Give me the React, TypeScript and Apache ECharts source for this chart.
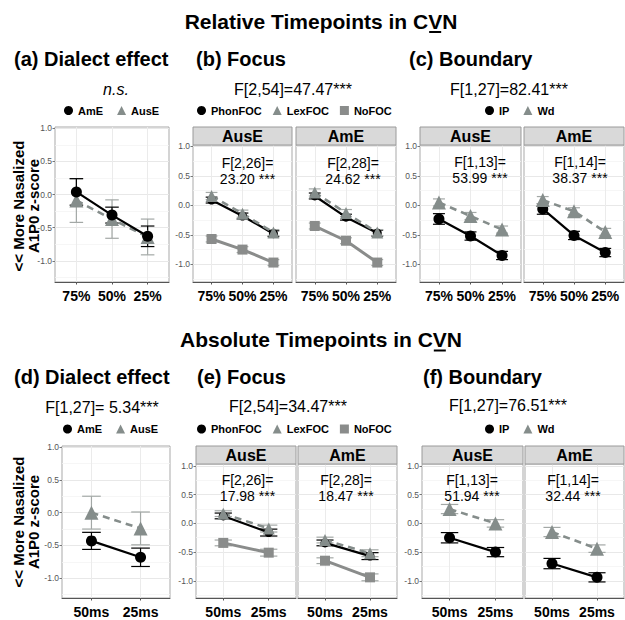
import React, { useEffect, useRef } from "react";
import * as echarts from "echarts";

// ---------- categories / ticks ----------
const relCats = ["75%", "50%", "25%"];
const absCats = ["50ms", "25ms"];
const yMajor = [-1, -0.5, 0, 0.5, 1];
const yMinor = [-1.25, -0.75, -0.25, 0.25, 0.75];

// ---------- (a) Dialect effect, relative ----------
const aAmE = [0.04, -0.31, -0.63];
const aAmEErr = [0.2, 0.12, 0.155];
const aAusE = [-0.09, -0.37, -0.64];
const aAusEErr = [0.33, 0.29, 0.27];

// ---------- (b) Focus, relative ----------
const bAusEPhon = [0.09, -0.18, -0.48];
const bAusELex = [0.16, -0.14, -0.46];
const bAusENo = [-0.57, -0.75, -0.97];
const bAmEPhon = [0.16, -0.2, -0.47];
const bAmELex = [0.22, -0.13, -0.46];
const bAmENo = [-0.35, -0.6, -0.97];
const bPhonErr = [0.05, 0.05, 0.05];
const bLexErr = [0.06, 0.06, 0.05];
const bNoErr = [0.05, 0.05, 0.05];

// ---------- (c) Boundary, relative ----------
const cAusEIP = [-0.23, -0.52, -0.85];
const cAusEWd = [0.05, -0.18, -0.41];
const cAmEIP = [-0.06, -0.51, -0.8];
const cAmEWd = [0.09, -0.1, -0.45];
const cIPErr = [0.09, 0.07, 0.07];
const cWdErr = [0.06, 0.06, 0.06];

// ---------- (d) Dialect effect, absolute ----------
const dAmE = [-0.43, -0.68];
const dAmEErr = [0.13, 0.14];
const dAusE = [0.0, -0.24];
const dAusEErr = [0.25, 0.25];

// ---------- (e) Focus, absolute ----------
const eAusEPhon = [0.13, -0.16];
const eAusELex = [0.17, -0.09];
const eAusENo = [-0.34, -0.51];
const eAmEPhon = [-0.34, -0.57];
const eAmELex = [-0.29, -0.52];
const eAmENo = [-0.65, -0.94];
const eErr = [0.05, 0.06];

// ---------- (f) Boundary, absolute ----------
const fAusEIP = [-0.25, -0.5];
const fAusEWd = [0.25, 0.0];
const fAmEIP = [-0.7, -0.94];
const fAmEWd = [-0.15, -0.44];
const fIPErr = [0.09, 0.08];
const fWdErr = [0.08, 0.065];

const FONT = "'Liberation Sans', Arial, Helvetica, sans-serif";

type Kind = "circle" | "triangle" | "square";
const KIND: Record<Kind, any> = {
  circle: { color: "#000000", symbol: "circle", lineType: "solid", lineWidth: 2.2, err: "#000000" },
  triangle: { color: "#858d8b", symbol: "triangle", lineType: [7, 5], lineWidth: 2.6, err: "#a3a8a6" },
  square: { color: "#8a8c8b", symbol: "rect", lineType: "solid", lineWidth: 3, err: "#a3a8a6" },
};

type S = { name: string; vals: number[]; err: number[]; kind: Kind; size: number };
type P = {
  left: number; top: number; width: number; height: number;
  min: number; max: number; cats: string[]; yLabels: boolean; strip?: string; series: S[];
};

const panels: P[] = [
  { left: 55, top: 127, width: 114, height: 155, min: -1.32, max: 1.02, cats: relCats, yLabels: true,
    series: [
      { name: "AusE", vals: aAusE, err: aAusEErr, kind: "triangle", size: 14 },
      { name: "AmE", vals: aAmE, err: aAmEErr, kind: "circle", size: 11 },
    ] },
  { left: 193, top: 145, width: 99, height: 137, min: -1.3, max: 1.025, cats: relCats, yLabels: true, strip: "AusE",
    series: [
      { name: "PhonFOC", vals: bAusEPhon, err: bPhonErr, kind: "circle", size: 9 },
      { name: "LexFOC", vals: bAusELex, err: bLexErr, kind: "triangle", size: 12 },
      { name: "NoFOC", vals: bAusENo, err: bNoErr, kind: "square", size: 10 },
    ] },
  { left: 296, top: 145, width: 100, height: 137, min: -1.3, max: 1.025, cats: relCats, yLabels: false, strip: "AmE",
    series: [
      { name: "PhonFOC", vals: bAmEPhon, err: bPhonErr, kind: "circle", size: 9 },
      { name: "LexFOC", vals: bAmELex, err: bLexErr, kind: "triangle", size: 12 },
      { name: "NoFOC", vals: bAmENo, err: bNoErr, kind: "square", size: 10 },
    ] },
  { left: 420, top: 145, width: 101, height: 137, min: -1.3, max: 1.025, cats: relCats, yLabels: true, strip: "AusE",
    series: [
      { name: "IP", vals: cAusEIP, err: cIPErr, kind: "circle", size: 11 },
      { name: "Wd", vals: cAusEWd, err: cWdErr, kind: "triangle", size: 14 },
    ] },
  { left: 524, top: 145, width: 100, height: 137, min: -1.3, max: 1.025, cats: relCats, yLabels: false, strip: "AmE",
    series: [
      { name: "IP", vals: cAmEIP, err: cIPErr, kind: "circle", size: 11 },
      { name: "Wd", vals: cAmEWd, err: cWdErr, kind: "triangle", size: 14 },
    ] },
  { left: 62, top: 446, width: 108, height: 152, min: -1.3, max: 1.015, cats: absCats, yLabels: true,
    series: [
      { name: "AusE", vals: dAusE, err: dAusEErr, kind: "triangle", size: 14 },
      { name: "AmE", vals: dAmE, err: dAmEErr, kind: "circle", size: 11 },
    ] },
  { left: 196, top: 464, width: 100, height: 134, min: -1.3, max: 1.035, cats: absCats, yLabels: true, strip: "AusE",
    series: [
      { name: "PhonFOC", vals: eAusEPhon, err: eErr, kind: "circle", size: 9 },
      { name: "LexFOC", vals: eAusELex, err: eErr, kind: "triangle", size: 12 },
      { name: "NoFOC", vals: eAusENo, err: eErr, kind: "square", size: 10 },
    ] },
  { left: 298, top: 464, width: 99, height: 134, min: -1.3, max: 1.035, cats: absCats, yLabels: false, strip: "AmE",
    series: [
      { name: "PhonFOC", vals: eAmEPhon, err: eErr, kind: "circle", size: 9 },
      { name: "LexFOC", vals: eAmELex, err: eErr, kind: "triangle", size: 12 },
      { name: "NoFOC", vals: eAmENo, err: eErr, kind: "square", size: 10 },
    ] },
  { left: 422, top: 464, width: 101, height: 134, min: -1.3, max: 1.035, cats: absCats, yLabels: true, strip: "AusE",
    series: [
      { name: "IP", vals: fAusEIP, err: fIPErr, kind: "circle", size: 11 },
      { name: "Wd", vals: fAusEWd, err: fWdErr, kind: "triangle", size: 14 },
    ] },
  { left: 525, top: 464, width: 99, height: 134, min: -1.3, max: 1.035, cats: absCats, yLabels: false, strip: "AmE",
    series: [
      { name: "IP", vals: fAmEIP, err: fIPErr, kind: "circle", size: 11 },
      { name: "Wd", vals: fAmEWd, err: fWdErr, kind: "triangle", size: 14 },
    ] },
];

const STRIP_H = 18;

function measure(text: string, font: string) {
  const ctx = document.createElement("canvas").getContext("2d");
  if (!ctx) return text.length * 10;
  ctx.font = font;
  return ctx.measureText(text).width;
}

function txt(x: number, y: number, text: string, size: number, opts: any = {}) {
  const align = opts.align || "center";
  return {
    type: "text",
    x, y,
    rotation: opts.rotation || 0,
    z: 50,
    style: {
      text,
      fontSize: size,
      fontWeight: opts.weight || "normal",
      fontStyle: opts.italic ? "italic" : "normal",
      fontFamily: FONT,
      fill: opts.color || "#000",
      textAlign: align, align,
      textVerticalAlign: "middle", verticalAlign: "middle",
      lineHeight: opts.lineHeight || size,
    },
  };
}

function titleWithUnderline(cx: number, cy: number, text: string) {
  const size = 21;
  const font = `bold ${size}px ${FONT}`;
  const total = measure(text, font);
  const prefix = measure(text.slice(0, text.length - 2), font);
  const vW = measure("V", font);
  const x0 = cx - total / 2 + prefix;
  return [
    txt(cx, cy, text, size, { weight: "bold" }),
    { type: "line", z: 50, shape: { x1: x0 + 1, y1: cy + 11, x2: x0 + vW - 1, y2: cy + 11 }, style: { stroke: "#000", lineWidth: 2 } },
  ];
}

function errRender(color: string) {
  return (params: any, api: any) => {
    const x = api.value(0);
    const lo = api.value(1);
    const hi = api.value(2);
    const a = api.coord([x, lo]);
    const b = api.coord([x, hi]);
    const aL = api.coord([x - 0.19, lo]);
    const aR = api.coord([x + 0.19, lo]);
    const bL = api.coord([x - 0.19, hi]);
    const bR = api.coord([x + 0.19, hi]);
    const style = { stroke: color, lineWidth: 1.2, fill: null };
    return {
      type: "group",
      children: [
        { type: "line", shape: { x1: a[0], y1: a[1], x2: b[0], y2: b[1] }, style },
        { type: "line", shape: { x1: aL[0], y1: aL[1], x2: aR[0], y2: aR[1] }, style },
        { type: "line", shape: { x1: bL[0], y1: bL[1], x2: bR[0], y2: bR[1] }, style },
      ],
    };
  };
}

function buildOption() {
  const grid: any[] = [];
  const xAxis: any[] = [];
  const yAxis: any[] = [];
  const series: any[] = [];
  const graphic: any[] = [];

  panels.forEach((p, i) => {
    grid.push({
      left: p.left, top: p.top, width: p.width, height: p.height,
      show: true, borderColor: "#a9a9a9", borderWidth: 1, backgroundColor: "transparent",
    });
    const idx = p.cats.map((_, k) => k);
    xAxis.push({
      type: "value", gridIndex: i, min: -0.6, max: p.cats.length - 1 + 0.6,
      axisLine: { show: true, onZero: false, lineStyle: { color: "#555", width: 1 } },
      axisTick: { show: true, length: 2.5, customValues: idx, lineStyle: { color: "#555" } },
      axisLabel: {
        customValues: idx,
        formatter: (v: number) => p.cats[Math.round(v)] ?? "",
        fontSize: 14, fontWeight: "bold", color: "#000", margin: 7, fontFamily: FONT,
      },
      splitLine: { show: true, lineStyle: { color: "#ebebeb", width: 1 } },
    });
    yAxis.push({
      type: "value", gridIndex: i, min: p.min, max: p.max, position: "left",
      axisLine: { show: false, onZero: false },
      axisTick: { show: p.yLabels, length: 2.5, customValues: yMajor, lineStyle: { color: "#777" } },
      axisLabel: {
        show: p.yLabels, customValues: yMajor,
        formatter: (v: number) => v.toFixed(1),
        fontSize: 8.5, color: "#555", margin: 3, fontFamily: FONT,
      },
      splitLine: { show: true, lineStyle: { color: "#e8e8e8", width: 1 } },
    });
    yAxis.push({
      type: "value", gridIndex: i, min: p.min, max: p.max, position: "right",
      axisLine: { show: false, onZero: false },
      axisTick: { show: false, customValues: yMinor },
      axisLabel: { show: false },
      splitLine: { show: true, lineStyle: { color: "#f4f4f4", width: 0.8 } },
    });

    p.series.forEach((s) => {
      const k = KIND[s.kind];
      series.push({
        type: "custom", name: s.name + " err", xAxisIndex: i, yAxisIndex: 2 * i, z: 2,
        renderItem: errRender(k.err),
        encode: { x: 0, y: [1, 2] },
        data: s.vals.map((v, j) => [j, v - s.err[j], v + s.err[j]]),
        silent: true,
      });
    });
    p.series.forEach((s) => {
      const k = KIND[s.kind];
      series.push({
        type: "line", name: s.name, xAxisIndex: i, yAxisIndex: 2 * i, z: 3,
        data: s.vals.map((v, j) => [j, v]),
        symbol: k.symbol, symbolSize: s.size, showSymbol: true,
        itemStyle: { color: k.color, borderWidth: 0 },
        lineStyle: { color: k.color, width: k.lineWidth, type: k.lineType },
        silent: true,
      });
    });

    if (p.strip) {
      graphic.push({
        type: "rect", z: 40,
        shape: { x: p.left, y: p.top - STRIP_H, width: p.width, height: STRIP_H },
        style: { fill: "#d9d9d9", stroke: "#9a9a9a", lineWidth: 1 },
      });
      graphic.push(txt(p.left + p.width / 2, p.top - STRIP_H / 2 + 0.5, p.strip, 16, { weight: "bold" }));
    }
  });

  // titles
  graphic.push(...titleWithUnderline(321, 21, "Relative Timepoints in CVN"));
  graphic.push(...titleWithUnderline(321, 339.5, "Absolute Timepoints in CVN"));

  // sub titles
  graphic.push(txt(14, 58.5, "(a) Dialect effect", 20, { weight: "bold", align: "left" }));
  graphic.push(txt(196, 58.5, "(b) Focus", 20, { weight: "bold", align: "left" }));
  graphic.push(txt(409, 58.5, "(c) Boundary", 20, { weight: "bold", align: "left" }));
  graphic.push(txt(14, 377, "(d) Dialect effect", 20, { weight: "bold", align: "left" }));
  graphic.push(txt(197, 377, "(e) Focus", 20, { weight: "bold", align: "left" }));
  graphic.push(txt(423, 377, "(f) Boundary", 20, { weight: "bold", align: "left" }));

  // omnibus statistics
  graphic.push(txt(116, 89, "n.s.", 16, { italic: true }));
  graphic.push(txt(293, 89, "F[2,54]=47.47***", 16));
  graphic.push(txt(509, 89, "F[1,27]=82.41***", 16));
  graphic.push(txt(102, 407, "F[1,27]= 5.34***", 16));
  graphic.push(txt(288, 406, "F[2,54]=34.47***", 16));
  graphic.push(txt(508, 405, "F[1,27]=76.51***", 16));

  // in-panel statistics
  const inner = [
    [247.5, 170.5, "F[2,26]=\n23.20 ***"],
    [353, 170.5, "F[2,28]=\n24.62 ***"],
    [480, 169.5, "F[1,13]=\n53.99 ***"],
    [580, 169.5, "F[1,14]=\n38.37 ***"],
    [247.5, 487.5, "F[2,26]=\n17.98 ***"],
    [346, 487.5, "F[2,28]=\n18.47 ***"],
    [472, 487.5, "F[1,13]=\n51.94 ***"],
    [573, 487.5, "F[1,14]=\n32.44 ***"],
  ];
  inner.forEach(([x, y, t]) => graphic.push(txt(x as number, y as number, t as string, 14, { lineHeight: 16 })));

  // y axis titles
  graphic.push(txt(26, 206, "<< More Nasalized\nA1P0 z-score", 15, { weight: "bold", rotation: Math.PI / 2, lineHeight: 15 }));
  graphic.push(txt(26, 522, "<< More Nasalized\nA1P0 z-score", 15, { weight: "bold", rotation: Math.PI / 2, lineHeight: 15 }));

  const legendBase = {
    orient: "horizontal", itemWidth: 9, itemHeight: 9, itemGap: 14, selectedMode: false,
    padding: 0,
    textStyle: { fontSize: 11, fontWeight: "bold", color: "#000", fontFamily: FONT },
  };
  const dial = [{ name: "AmE", icon: "circle" }, { name: "AusE", icon: "triangle" }];
  const foc = [{ name: "PhonFOC", icon: "circle" }, { name: "LexFOC", icon: "triangle" }, { name: "NoFOC", icon: "rect" }];
  const bnd = [{ name: "IP", icon: "circle" }, { name: "Wd", icon: "triangle" }];
  const legend = [
    { ...legendBase, left: 64, top: 105, data: dial },
    { ...legendBase, itemGap: 11, left: 197, top: 105, data: foc },
    { ...legendBase, left: 485, top: 105, data: bnd },
    { ...legendBase, left: 63, top: 423.5, data: dial },
    { ...legendBase, itemGap: 11, left: 197, top: 423.5, data: foc },
    { ...legendBase, left: 485, top: 423.5, data: bnd },
  ];

  return {
    animation: false,
    backgroundColor: "#ffffff",
    textStyle: { fontFamily: FONT },
    grid, xAxis, yAxis, series, legend, graphic,
  };
}

export default function App() {
  const ref = useRef<HTMLDivElement>(null);
  useEffect(() => {
    if (!ref.current) return;
    const chart = echarts.init(ref.current, null, { renderer: "svg" });
    chart.setOption(buildOption() as any);
    return () => chart.dispose();
  }, []);
  return <div ref={ref} style={{ position: "absolute", left: 0, top: 0, width: 625, height: 620 }} />;
}
